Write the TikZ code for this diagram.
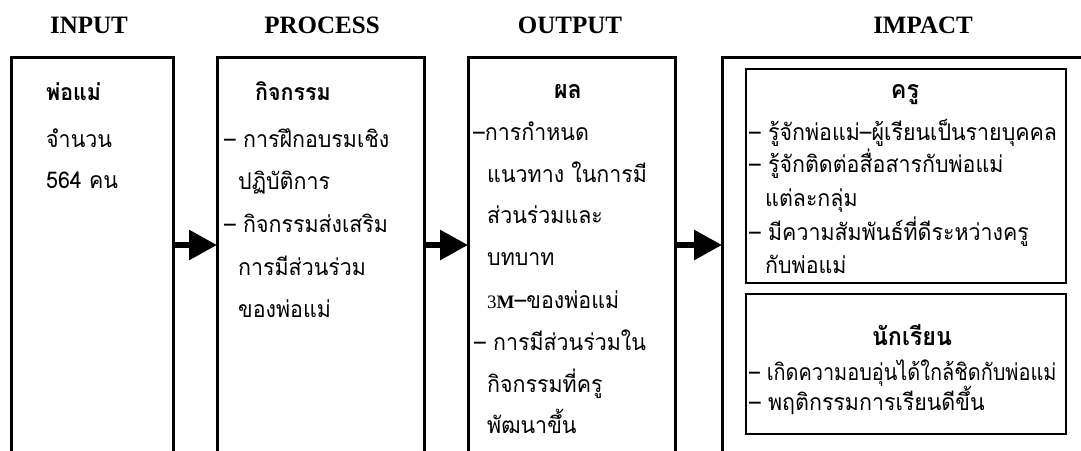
\documentclass[tikz,border=0pt]{standalone}
\usepackage{fontspec}
\usepackage{graphicx}
\setmainfont{Liberation Serif}
\newfontfamily\thai[Script=Thai,FakeStretch=0.93]{Loma}
\newfontfamily\tms{Liberation Serif}
\usetikzlibrary{arrows.meta}
\tikzset{
  outerbox/.style={draw, line width=3pt, inner sep=0pt, anchor=north west},
  innerbox/.style={draw, line width=1.8pt, inner sep=0pt, anchor=north west},
  title/.style={font=\bfseries\fontsize{25}{25}\selectfont, anchor=base, inner sep=0pt},
  txt/.style={font=\thai\fontsize{23}{23}\selectfont, anchor=base west, inner sep=0pt},
  hd/.style={font=\thai\bfseries\fontsize{23}{23}\selectfont, anchor=base west, inner sep=0pt},
  hdc/.style={font=\thai\bfseries\fontsize{25}{25}\selectfont, anchor=base, inner sep=0pt},
  arr/.style={line width=6pt, -{Triangle[length=28pt,width=29pt]}, shorten >=-1pt}
}
\begin{document}
\begin{tikzpicture}[x=1pt,y=-1pt]
\useasboundingbox (0,0) rectangle (1081,450);
\clip (0,0) rectangle (1081,450);
% titles
\node[title] (tin) at (89,33) {INPUT};
\node[title] (tpr) at (322,33) {PROCESS};
\node[title] (tou) at (570,33) {OUTPUT};
\node[title] (tim) at (923,33) {IMPACT};
% outer boxes
\node[outerbox, minimum width=162pt, minimum height=420pt] (bin) at (10,56) {};
\node[outerbox, minimum width=207pt, minimum height=420pt] (bpr) at (216,56) {};
\node[outerbox, minimum width=207pt, minimum height=420pt] (bou) at (467,56) {};
\node[outerbox, minimum width=380pt, minimum height=420pt] (bim) at (721,56) {};
% inner boxes
\node[innerbox, minimum width=320pt, minimum height=214pt] (bkr) at (745,68) {};
\node[innerbox, minimum width=320pt, minimum height=140pt] (bst) at (745,293) {};
% arrows
\coordinate (ay) at (0,245);
\draw[arr] (bin.east |- ay) -- (bpr.west |- ay);
\draw[arr] (bpr.east |- ay) -- (bou.west |- ay);
\draw[arr] (bou.east |- ay) -- (bim.west |- ay);
% INPUT text
\node[hd] (i1) at (46,100) {พ่อแม่};
\node[txt] (i2) at (46,147) {จำนวน};
\node[txt] (i3) at (46,188) {564 คน};
% PROCESS text
\node[hd] (p1) at (255,100) {กิจกรรม};
\node[txt] (p2) at (224,147) {– การฝึกอบรมเชิง};
\node[txt] (p3) at (238,189) {ปฏิบัติการ};
\node[txt] (p4) at (224,232) {– กิจกรรมส่งเสริม};
\node[txt] (p5) at (238,275) {การมีส่วนร่วม};
\node[txt] (p6) at (238,317) {ของพ่อแม่};
% OUTPUT text
\node[hdc] (o1) at (568,98) {ผล};
\node[txt] (o2) at (473,140) {–การกำหนด};
\node[txt] (o3) at (487,182) {แนวทาง ในการมี};
\node[txt] (o4) at (487,223) {ส่วนร่วมและ};
\node[txt] (o5) at (487,265) {บทบาท};
\node[txt] (o6) at (487,308) {{\tms\fontsize{19}{19}\selectfont 3\bfseries M}–ของพ่อแม่};
\node[txt] (o7) at (474,350) {– การมีส่วนร่วมใน};
\node[txt] (o8) at (487,392) {กิจกรรมที่ครู};
\node[txt] (o9) at (487,433) {พัฒนาขึ้น};
% IMPACT text
\node[hdc] (k0) at (905,98) {ครู};
\node[txt] (k1) at (749,140) {– รู้จักพ่อแม่–ผู้เรียนเป็นรายบุคคล};
\node[txt] (k2) at (749,172) {– รู้จักติดต่อสื่อสารกับพ่อแม่};
\node[txt] (k3) at (765,206) {แต่ละกลุ่ม};
\node[txt] (k4) at (749,240) {– มีความสัมพันธ์ที่ดีระหว่างครู};
\node[txt] (k5) at (765,273) {กับพ่อแม่};
\node[hdc] (s0) at (912,345) {นักเรียน};
\node[txt] (s1) at (749,380) {\scalebox{0.93}[1]{– เกิดความอบอุ่นได้ใกล้ชิดกับพ่อแม่}};
\node[txt] (s2) at (749,410) {– พฤติกรรมการเรียนดีขึ้น};
\end{tikzpicture}
\end{document}
